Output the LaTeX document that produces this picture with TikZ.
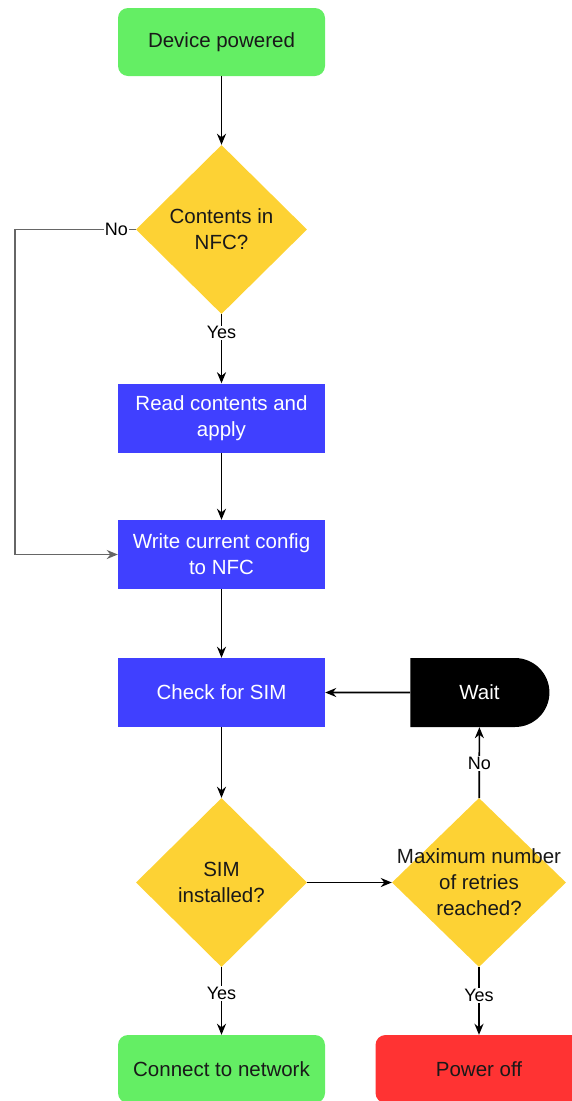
\documentclass[tikz,border=0pt]{standalone}
\usepackage{fontspec}
\setmainfont{Liberation Sans}
\usetikzlibrary{shapes.geometric,shapes.misc,arrows.meta}

\definecolor{startgreen}{RGB}{100,238,100}
\definecolor{procblue}{RGB}{64,64,255}
\definecolor{decyellow}{RGB}{253,210,52}
\definecolor{stopred}{RGB}{255,51,51}

\tikzset{
  base/.style={font=\fontsize{20.5}{26}\selectfont, align=center, inner sep=0pt, text=black!90},
  terminal/.style={base, rectangle, rounded corners=10pt, minimum width=207pt, minimum height=68pt},
  process/.style={base, rectangle, fill=procblue, text=white, minimum width=207pt, minimum height=69pt},
  decision/.style={base, diamond, fill=decyellow, minimum width=171pt, minimum height=169pt},
  delay/.style={base, rounded rectangle, rounded rectangle west arc=none, fill=black, text=white,
    minimum width=139pt, minimum height=69pt},
  flow/.style={line width=1.7pt, -{Stealth[length=11pt,width=9pt,inset=3.5pt]}},
  edgelabel/.style={fill=white, font=\fontsize{18}{20}\selectfont, inner sep=1pt},
}

\begin{document}
\begin{tikzpicture}[x=1pt, y=-1pt]
    \useasboundingbox (0,0) rectangle (571,1101);

    % main column
    \node[terminal, fill=startgreen] (start) at (221.5,42) {Device powered};
    \node[decision] (nfc) at (221.5,229.5) {Contents in\\NFC?};
    \node[process] (read) at (221.5,418) {Read contents and\\apply};
    \node[process] (write) at (221.5,554.5) {Write current config\\to NFC};
    \node[process] (sim) at (221.5,692.5) {Check for SIM};
    \node[decision] (installed) at (221.5,882.5) {SIM\\installed?};
    \node[terminal, fill=startgreen] (connect) at (221.5,1069) {Connect to network};

    % retry column
    \node[delay] (wait) at (479.5,692.5) {Wait};
    \node[decision, minimum width=174pt,
          label={[base]center:{Maximum number\\of retries\\reached?}}] (retries) at (479,882.5) {};
    \node[terminal, fill=stopred] (poweroff) at (479,1069) {Power off};

    \coordinate (loop) at (15,229.5);

    \draw[flow] (start) -- (nfc);
    \draw[flow] (nfc) -- node[edgelabel, pos=0.27] {Yes} (read);
    \draw[flow] (read) -- (write);
    \draw[flow, draw=black!60] (nfc.west) -- node[edgelabel, pos=0.16] {No} (loop) |- (write.west);
    \draw[flow] (write) -- (sim);
    \draw[flow] (sim) -- (installed);
    \draw[flow] (wait) -- (sim);
    \draw[flow] (installed) -- (retries);
    \draw[flow] (retries) -- node[edgelabel, pos=0.49] {No} (wait);
    \draw[flow] (installed) -- node[edgelabel, pos=0.39] {Yes} (connect);
    \draw[flow] (retries) -- node[edgelabel, pos=0.42] {Yes} (poweroff);

\end{tikzpicture}
\end{document}
